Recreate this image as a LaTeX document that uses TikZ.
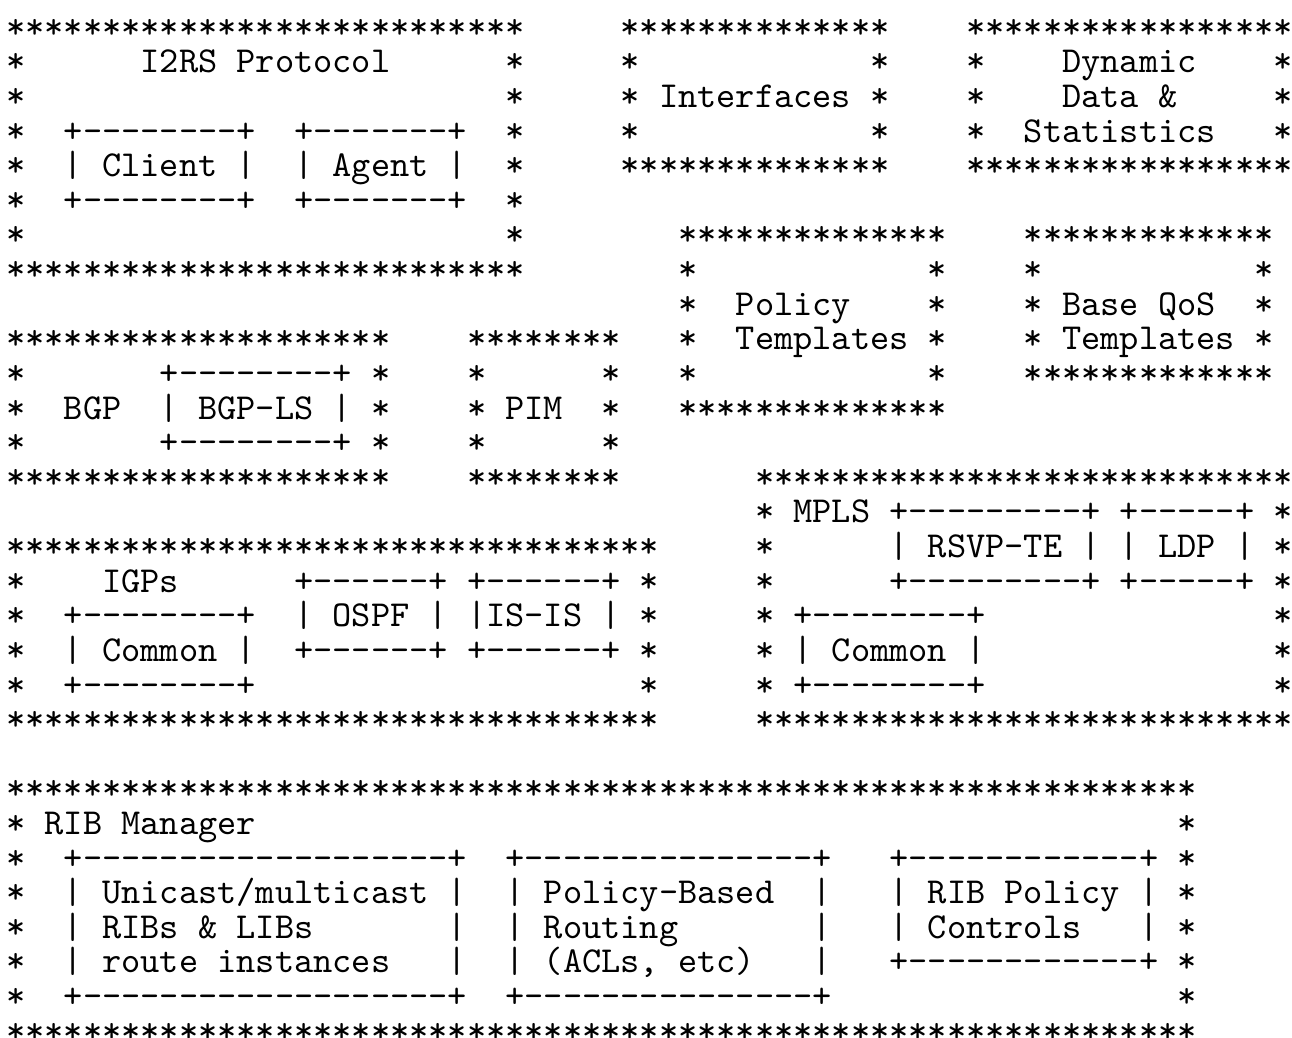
\documentclass[tikz,border=0pt]{standalone}
\usepackage{fancyvrb}

\normallineskiplimit=-\maxdimen
\lineskiplimit=-\maxdimen
\fvset{fontsize=\fontsize{10}{9.466}\selectfont}

\begin{SaveVerbatim}{protocol}
***************************
*      I2RS Protocol      *
*                         *
*  +--------+  +-------+  *
*  | Client |  | Agent |  *
*  +--------+  +-------+  *
*                         *
***************************
\end{SaveVerbatim}

\begin{SaveVerbatim}{interfaces}
**************
*            *
* Interfaces *
*            *
**************
\end{SaveVerbatim}

\begin{SaveVerbatim}{dynamic}
*****************
*    Dynamic    *
*    Data &     *
*  Statistics   *
*****************
\end{SaveVerbatim}

\begin{SaveVerbatim}{policy}
**************
*            *
*  Policy    *
*  Templates *
*            *
**************
\end{SaveVerbatim}

\begin{SaveVerbatim}{qos}
*************
*           *
* Base QoS  *
* Templates *
*************
\end{SaveVerbatim}

\begin{SaveVerbatim}{bgp}
********************
*       +--------+ *
*  BGP  | BGP-LS | *
*       +--------+ *
********************
\end{SaveVerbatim}

\begin{SaveVerbatim}{pim}
********
*      *
* PIM  *
*      *
********
\end{SaveVerbatim}

\begin{SaveVerbatim}{mpls}
****************************
* MPLS +---------+ +-----+ *
*      | RSVP-TE | | LDP | *
*      +---------+ +-----+ *
* +--------+               *
* | Common |               *
* +--------+               *
****************************
\end{SaveVerbatim}

\begin{SaveVerbatim}{igps}
**********************************
*    IGPs      +------+ +------+ *
*  +--------+  | OSPF | |IS-IS | *
*  | Common |  +------+ +------+ *
*  +--------+                    *
**********************************
\end{SaveVerbatim}

\begin{SaveVerbatim}{rib}
**************************************************************
* RIB Manager                                                *
*  +-------------------+  +---------------+   +------------+ *
*  | Unicast/multicast |  | Policy-Based  |   | RIB Policy | *
*  | RIBs & LIBs       |  | Routing       |   | Controls   | *
*  | route instances   |  | (ACLs, etc)   |   +------------+ *
*  +-------------------+  +---------------+                  *
**************************************************************
\end{SaveVerbatim}

\begin{document}
\begin{tikzpicture}
[x=5.25pt, y=-9.466pt,
 art/.style={inner sep=0pt, outer sep=0pt, anchor=base west}]

\useasboundingbox (-0.333,-0.105) rectangle (66.96,29.86);

\node[art] (P) at (0,8) {\BUseVerbatim{protocol}};

\node[art] (I) at (32,5) {\BUseVerbatim{interfaces}};

\node[art] (D) at (50,5) {\BUseVerbatim{dynamic}};

\node[art] (T) at (35,12) {\BUseVerbatim{policy}};

\node[art] (Q) at (53,11) {\BUseVerbatim{qos}};

\node[art] (B) at (0,14) {\BUseVerbatim{bgp}};

\node[art] (M) at (24,14) {\BUseVerbatim{pim}};

\node[art] (L) at (39,21) {\BUseVerbatim{mpls}};

\node[art] (G) at (0,21) {\BUseVerbatim{igps}};

\node[art] (R) at (0,30) {\BUseVerbatim{rib}};

\end{tikzpicture}
\end{document}
